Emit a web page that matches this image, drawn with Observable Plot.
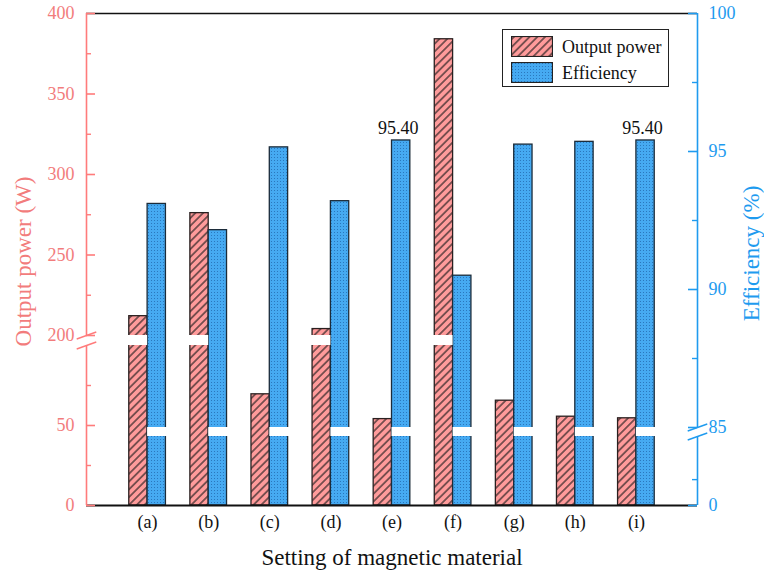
<!DOCTYPE html>
<html>
<head>
<meta charset="utf-8">
<script src="https://cdn.jsdelivr.net/npm/d3@7"></script>
<script src="https://cdn.jsdelivr.net/npm/@observablehq/plot@0.6"></script>
<style>
  body { margin: 0; background: #fff; }
  #wrap { position: relative; width: 764px; height: 576px; font-family: "Liberation Serif", "Times New Roman", serif; }
  #legend { position: absolute; left: 502px; top: 29px; width: 167px; height: 58px; border: 1px solid #222; background: #fff; box-sizing: border-box; }
  .sw { position: absolute; left: 8px; }
  .lt { position: absolute; left: 59px; font-size: 18px; color: #111; line-height: 20px; white-space: nowrap; }
</style>
</head>
<body>
<svg width="0" height="0" style="position:absolute">
  <defs>
    <pattern id="hatch" patternUnits="userSpaceOnUse" width="5.5" height="5.5" patternTransform="rotate(45)">
      <rect width="5.5" height="5.5" fill="#FF9B9B"/>
      <line x1="2.75" y1="0" x2="2.75" y2="5.5" stroke="#1a1a1a" stroke-width="1.1"/>
    </pattern>
    <pattern id="dots" patternUnits="userSpaceOnUse" width="3" height="3">
      <rect width="3" height="3" fill="#46AAF2"/>
      <rect x="1" y="1" width="1" height="1" fill="#2A78BE"/>
    </pattern>
  </defs>
</svg>
<div id="wrap">
  <div id="legend">
    <svg class="sw" style="top:6px" width="42" height="21"><rect x="0.5" y="0.5" width="41" height="20" fill="url(#hatch)" stroke="#222" stroke-width="1.2"/></svg>
    <div class="lt" style="top:7px">Output power</div>
    <svg class="sw" style="top:32px" width="42" height="21"><rect x="0.5" y="0.5" width="41" height="20" fill="url(#dots)" stroke="#222" stroke-width="1.2"/></svg>
    <div class="lt" style="top:33px">Efficiency</div>
  </div>
</div>
<script>
// ---- data ----
const categories = ["(a)", "(b)", "(c)", "(d)", "(e)", "(f)", "(g)", "(h)", "(i)"];
const outputPower = [212, 276, 69.5, 204, 54, 384, 65.5, 55.5, 54.5];
const efficiency = [93.1, 92.15, 95.15, 93.2, 95.4, 90.5, 95.25, 95.35, 95.4];
const efficiencyLabels = ["", "", "", "", "95.40", "", "", "", "95.40"];

const leftTickValues = [0, 50, 200, 250, 300, 350, 400];
const leftTickLabels = ["0", "50", "200", "250", "300", "350", "400"];
const leftMinorTicks = [25, 75, 225, 275, 325, 375];
const rightTickValues = [0, 85, 90, 95, 100];
const rightTickLabels = ["0", "85", "90", "95", "100"];
const rightMinorTicks = [30, 87.5, 92.5, 97.5];

const xTitle = "Setting of magnetic material";
const leftTitle = "Output power (W)";
const rightTitle = "Efficiency (%)";

// broken-axis segments: data domain -> shared virtual y coordinate
const leftSegments = [{domain: [0, 100], range: [0, 160]}, {domain: [200, 400], range: [170, 492]}];
const rightSegments = [{domain: [0, 80], range: [0, 69]}, {domain: [85, 100], range: [78, 492]}];

function piecewise(segments) {
  return v => {
    const s = v <= segments[0].domain[1] ? segments[0] : segments[1];
    return s.range[0] + (v - s.domain[0]) * (s.range[1] - s.range[0]) / (s.domain[1] - s.domain[0]);
  };
}
const vL = piecewise(leftSegments);
const vR = piecewise(rightSegments);

const rows = categories.map((c, i) => ({cat: c, pos: i + 1, power: outputPower[i], eff: efficiency[i], label: efficiencyLabels[i]}));
const barWidth = 0.3;
const W = 764, H = 576, mL = 86, mR = 67, mT = 13, mB = 71;
const frameW = W - mL - mR;
const pink = "#FF7B7B", pinkText = "#F27C7C";
const blue = "#1F9BEF", blueText = "#1E9BEF";
const xMax = categories.length + 1;
const yMax = leftSegments[1].range[1];

const leftBreak = {x: 0, gap: [leftSegments[0].range[1], leftSegments[1].range[0]]};
const rightBreak = {x: xMax, gap: [rightSegments[0].range[1], rightSegments[1].range[0]]};
const breakLines = [
  {x: leftBreak.x, y: leftBreak.gap[0], c: pink}, {x: leftBreak.x, y: leftBreak.gap[1], c: pink},
  {x: rightBreak.x, y: rightBreak.gap[0], c: blue}, {x: rightBreak.x, y: rightBreak.gap[1], c: blue}
];

const chart = Plot.plot({
  width: W, height: H,
  marginLeft: mL, marginRight: mR, marginTop: mT, marginBottom: mB,
  x: {domain: [0, xMax], axis: null},
  y: {domain: [0, yMax], axis: null},
  style: {fontFamily: '"Liberation Serif", "Times New Roman", serif', fontSize: "18px", background: "white", overflow: "visible"},
  marks: [
    // bars
    Plot.rect(rows, {x1: d => d.pos - barWidth, x2: d => d.pos, y1: 0, y2: d => vL(d.power), fill: "url(#hatch)", stroke: "#2a2020", strokeWidth: 1.3}),
    Plot.rect(rows, {x1: d => d.pos, x2: d => d.pos + barWidth, y1: 0, y2: d => vR(d.eff), fill: "url(#dots)", stroke: "#1c2c3a", strokeWidth: 1.3}),
    // white break gaps through the bars
    Plot.rect(rows.filter(d => d.power > leftSegments[0].domain[1]), {x1: d => d.pos - barWidth, x2: d => d.pos, y1: leftBreak.gap[0], y2: leftBreak.gap[1], fill: "white", insetLeft: -1.5}),
    Plot.rect(rows.filter(d => d.eff > rightSegments[0].domain[1]), {x1: d => d.pos, x2: d => d.pos + barWidth, y1: rightBreak.gap[0], y2: rightBreak.gap[1], fill: "white", insetRight: -1.5}),
    // value labels
    Plot.text(rows.filter(d => d.label), {x: d => d.pos + barWidth / 2, y: d => vR(d.eff), text: "label", lineAnchor: "bottom", dy: -6, dx: -3, fontSize: 18, fill: "#111"}),
    // frame top / bottom
    Plot.ruleY([yMax], {stroke: "#111", strokeWidth: 1.5}),
    Plot.ruleY([0], {stroke: "#111", strokeWidth: 2.2}),
    // axis lines with gaps
    Plot.ruleX(leftSegments, {x: leftBreak.x, y1: d => d.range[0], y2: d => d.range[1], stroke: pink, strokeWidth: 1.6}),
    Plot.ruleX(rightSegments, {x: rightBreak.x, y1: d => d.range[0], y2: d => d.range[1], stroke: blue, strokeWidth: 1.6}),
    // break marks
    Plot.link(breakLines, {x1: d => d.x - 0.16, x2: d => d.x + 0.16, y1: d => d.y - 3.5, y2: d => d.y + 3.5, stroke: "c", strokeWidth: 1.4}),
    // ticks (inward)
    Plot.ruleY(leftTickValues, {y: vL, stroke: pink, strokeWidth: 1.6, insetRight: frameW - 9}),
    Plot.ruleY(leftMinorTicks, {y: vL, stroke: pink, strokeWidth: 1.4, insetRight: frameW - 5}),
    Plot.ruleY(rightTickValues, {y: vR, stroke: blue, strokeWidth: 1.6, insetLeft: frameW - 9}),
    Plot.ruleY(rightMinorTicks, {y: vR, stroke: blue, strokeWidth: 1.4, insetLeft: frameW - 5}),
    // tick labels
    Plot.text(leftTickValues, {y: vL, text: (d, i) => leftTickLabels[i], frameAnchor: "left", textAnchor: "end", dx: -12, fill: pinkText, fontSize: 18}),
    Plot.text(rightTickValues, {y: vR, text: (d, i) => rightTickLabels[i], frameAnchor: "right", textAnchor: "start", dx: 11, fill: blueText, fontSize: 18}),
    // category labels
    Plot.text(rows, {x: "pos", text: "cat", frameAnchor: "bottom", dy: 22, fontSize: 18, fill: "#111"}),
    // titles
    Plot.text([xTitle], {frameAnchor: "bottom", dy: 59, fontSize: 23, fill: "#111"}),
    Plot.text([leftTitle], {frameAnchor: "left", textAnchor: "middle", lineAnchor: "middle", dx: -63, dy: 2, rotate: -90, fontSize: 23, fill: pinkText}),
    Plot.text([rightTitle], {frameAnchor: "right", textAnchor: "middle", lineAnchor: "middle", dx: 54, dy: -6, rotate: -90, fontSize: 23, fill: blueText})
  ]
});
document.getElementById("wrap").prepend(chart);
</script>
</body>
</html>
